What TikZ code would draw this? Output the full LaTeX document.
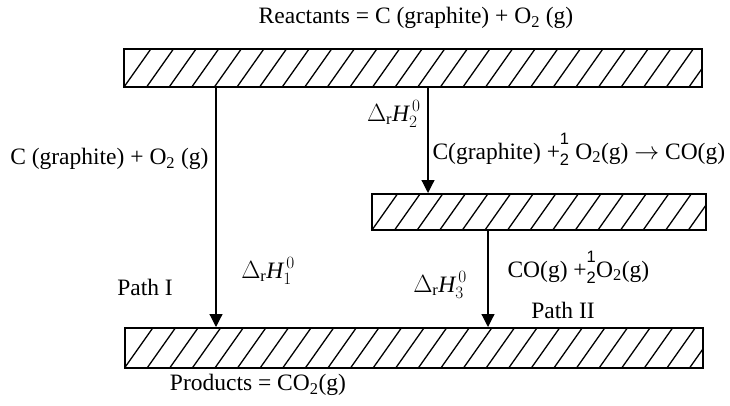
\documentclass[tikz,border=0pt]{standalone}
\usepackage{amsmath}
\usepackage{fontspec}
\setmainfont{Liberation Serif}
\newfontfamily\digitsf{Liberation Sans}
\usetikzlibrary{arrows.meta,positioning}

\newcommand{\half}{\makebox[9.5pt][l]{\digitsf\fontsize{16.5}{16.5}\selectfont\rlap{\raisebox{15pt}{1}}\raisebox{-6pt}{2}}}
\newcommand{\dH}[1]{$\Delta_{\mathrm{r}}\mathit{H}_{#1}^{\,0}$}

\begin{document}
\begin{tikzpicture}[
  x=1pt, y=1pt,
  level/.style={draw, line width=2pt, inner sep=0pt,
    path picture={\foreach \k in {0,...,34}
      \draw[line width=1.3pt] ([xshift=\k*22.6pt]path picture bounding box.south west) -- ++(36pt,51pt);}},
  trans/.style={-{Triangle[width=13pt,length=13pt]}, line width=1.2pt},
  every node/.style={font=\fontsize{23.5}{27}\selectfont},
]
  \useasboundingbox (0,0) rectangle (730,405);

  % Levels
  \node[level, minimum width=578pt, minimum height=38pt] (react) at (413,337) {};
  \node[level, minimum width=334pt, minimum height=36pt] (inter) at (539,193) {};
  \node[level, minimum width=578pt, minimum height=40pt] (prod) at (413.5,57) {};

  \node (rlab) at (416,387) {Reactants = C (graphite) + O\textsubscript{2} (g)};
  \node (plab) at (258,20) {Products = CO\textsubscript{2}(g)};

  % Arrow positions
  \coordinate (p1) at (216,0);
  \coordinate (p2) at (428,0);
  \coordinate (p3) at (488,0);

  % Transitions
  \draw[trans] (react.south -| p1) -- (prod.north -| p1);
  \draw[trans] (react.south -| p2) -- (inter.north -| p2);
  \draw[trans] (inter.south -| p3) -- (prod.north -| p3);

  % Labels
  \node[anchor=east] (eq1) at (212,246) {C (graphite) + O\textsubscript{2} (g)};
  \node[anchor=east] (h2) at (424,291) {\dH{2}};
  \node[anchor=west] (eq2) at (429,256) {C(graphite) +\half\ O\textsubscript{2}(g) $\rightarrow$ CO(g)};
  \node (h1) at (268,134) {\dH{1}};
  \node (path1) at (145,118) {Path I};
  \node (h3) at (440,120) {\dH{3}};
  \node[anchor=west] (eq3) at (504,138) {CO(g) +\half O\textsubscript{2}(g)};
  \node (path2) at (563,95) {Path II};
\end{tikzpicture}
\end{document}
